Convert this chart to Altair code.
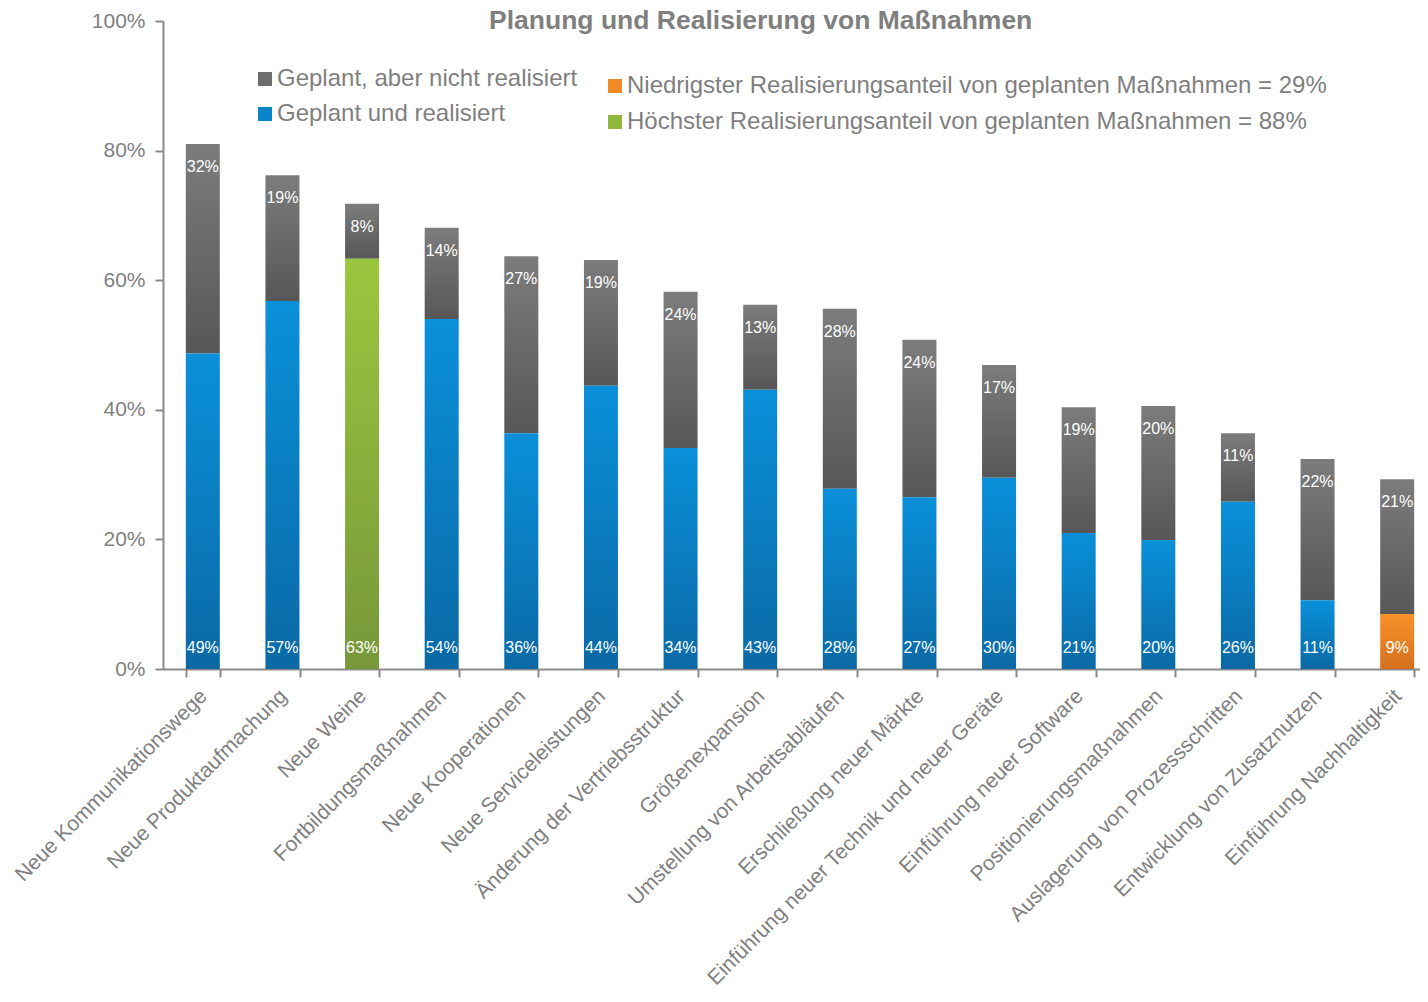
import altair as alt
import pandas as pd

categories = [
    "Neue Kommunikationswege", "Neue Produktaufmachung", "Neue Weine",
    "Fortbildungsmaßnahmen", "Neue Kooperationen", "Neue Serviceleistungen",
    "Änderung der Vertriebsstruktur", "Größenexpansion",
    "Umstellung von Arbeitsabläufen", "Erschließung neuer Märkte",
    "Einführung neuer Technik und neuer Geräte", "Einführung neuer Software",
    "Positionierungsmaßnahmen", "Auslagerung von Prozessschritten",
    "Entwicklung von Zusatznutzen", "Einführung Nachhaltigkeit",
]
realized = [48.7, 56.8, 63.3, 54.0, 36.4, 43.7, 34.1, 43.1, 27.8, 26.5, 29.5, 21.0, 19.9, 25.8, 10.6, 8.5]
not_realized = [32.3, 19.4, 8.5, 14.1, 27.3, 19.4, 24.1, 13.1, 27.8, 24.3, 17.4, 19.4, 20.7, 10.6, 21.8, 20.8]
realized_labels = ["49%", "57%", "63%", "54%", "36%", "44%", "34%", "43%", "28%", "27%", "30%", "21%", "20%", "26%", "11%", "9%"]
not_realized_labels = ["32%", "19%", "8%", "14%", "27%", "19%", "24%", "13%", "28%", "24%", "17%", "19%", "20%", "11%", "22%", "21%"]
highlight = ["blue", "blue", "green", "blue", "blue", "blue", "blue", "blue",
             "blue", "blue", "blue", "blue", "blue", "blue", "blue", "orange"]

legend1_names = ["Geplant, aber nicht realisiert", "Geplant und realisiert"]
legend1_colors = ["#6e6e6e", "#0a84c8"]
legend2_names = ["Niedrigster Realisierungsanteil von geplanten Maßnahmen = 29%",
                 "Höchster Realisierungsanteil von geplanten Maßnahmen = 88%"]
legend2_colors = ["#f08a26", "#8fb83c"]

df = pd.DataFrame({
    "cat": categories,
    "realized": realized,
    "notreal": not_realized,
    "rlab": realized_labels,
    "nlab": not_realized_labels,
    "hl": highlight,
})
df["total"] = df["realized"] + df["notreal"]

FONT = "Liberation Sans"
GREY = "#7f7f7f"
AXC = "#8a8a8a"


def grad(top, bottom):
    return alt.Gradient(
        gradient="linear", x1=0, y1=0, x2=0, y2=1,
        stops=[alt.GradientStop(offset=0, color=top),
               alt.GradientStop(offset=1, color=bottom)],
    )


x_enc = alt.X(
    "cat:N", sort=categories, title=None,
    scale=alt.Scale(paddingInner=0.57, paddingOuter=0.285, range=[0, 1274]),
    axis=alt.Axis(orient="bottom", labelAngle=-45, labelFontSize=21, labelColor=GREY,
                  labelFont=FONT, labelLimit=0, labelPadding=8, labelOffset=-7,
                  tickBand="extent", tickSize=8, tickWidth=2, tickColor=AXC,
                  domainColor=AXC, domainWidth=2, grid=False),
)
y_scale = alt.Scale(domain=[0, 100])
y_axis = alt.Axis(orient="left", values=[0, 20, 40, 60, 80, 100],
                  labelExpr="datum.value + '%'", grid=False, title=None,
                  labelFontSize=21, labelColor=GREY, labelFont=FONT, labelPadding=10,
                  tickSize=8, tickWidth=2, tickColor=AXC, domainColor=AXC,
                  domainWidth=2)

base = alt.Chart(df).encode(x=x_enc)

gray = base.mark_bar(size=34, color=grad("#7c7c7c", "#575757")).encode(
    y=alt.Y("realized:Q", scale=y_scale, axis=y_axis), y2="total:Q")

blue = base.transform_filter(alt.datum.hl == "blue").mark_bar(
    size=34, color=grad("#0a90da", "#0a69a5")).encode(
    y=alt.Y("realized:Q", scale=y_scale, axis=y_axis, stack=None))
green = base.transform_filter(alt.datum.hl == "green").mark_bar(
    size=34, color=grad("#9cc63e", "#76983a")).encode(
    y=alt.Y("realized:Q", scale=y_scale, axis=y_axis, stack=None))
orange = base.transform_filter(alt.datum.hl == "orange").mark_bar(
    size=34, color=grad("#f8922a", "#d5701f")).encode(
    y=alt.Y("realized:Q", scale=y_scale, axis=y_axis, stack=None))

txt_bottom = base.mark_text(color="white", fontSize=16, font=FONT, dy=-21,
                            baseline="middle").encode(
    y=alt.datum(0), text="rlab:N")
txt_top = base.mark_text(color="white", fontSize=16, font=FONT, dy=23,
                         baseline="middle").encode(
    y=alt.Y("total:Q", scale=y_scale, axis=y_axis), text="nlab:N")

leg1 = alt.Chart(df).transform_filter("false").mark_square(opacity=1).encode(
    color=alt.Color("lg1:N", scale=alt.Scale(domain=legend1_names, range=legend1_colors),
                    legend=alt.Legend(orient="none", legendX=90, legendY=46, title=None,
                                      labelFontSize=24, labelColor=GREY, labelFont=FONT,
                                      labelLimit=0, symbolType="square", symbolSize=196,
                                      symbolOpacity=1, symbolStrokeWidth=0,
                                      rowPadding=11, labelOffset=0)))
leg2 = alt.Chart(df).transform_filter("false").mark_square(opacity=1).encode(
    color=alt.Color("lg2:N", scale=alt.Scale(domain=legend2_names, range=legend2_colors),
                    legend=alt.Legend(orient="none", legendX=440, legendY=53, title=None,
                                      labelFontSize=24, labelColor=GREY, labelFont=FONT,
                                      labelLimit=0, symbolType="square", symbolSize=196,
                                      symbolOpacity=1, symbolStrokeWidth=0,
                                      rowPadding=12, labelOffset=0)))

chart = alt.layer(gray, blue, green, orange, txt_bottom, txt_top, leg1, leg2).resolve_scale(
    color="independent"
).properties(
    width=1257, height=648,
    title=alt.TitleParams("Planung und Realisierung von Maßnahmen", anchor="start",
                          frame="group", dx=326, offset=-24, fontSize=26.5,
                          fontWeight="bold", color=GREY, font=FONT),
    autosize=alt.AutoSizeParams(type="none"),
    padding={"left": 155, "top": 13, "right": 0, "bottom": 320},
).configure(font=FONT).configure_view(
    stroke="transparent", strokeWidth=0
).configure_axis(grid=False)

chart.save("out.html", embed_options={"renderer": "svg", "actions": False})
